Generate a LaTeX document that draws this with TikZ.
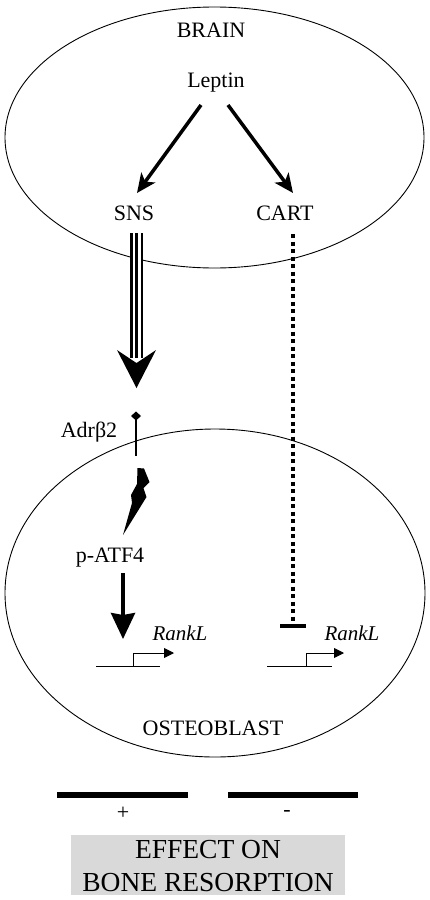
\documentclass[tikz,border=0pt]{standalone}
\usepackage{fontspec}
\setmainfont{Liberation Serif}
\usetikzlibrary{arrows.meta}
\tikzset{
  lbl/.style={font=\fontsize{22}{24}\selectfont, inner sep=0pt},
  gene/.style={font=\fontsize{21}{24}\selectfont\itshape, inner sep=0pt},
  big/.style={font=\fontsize{27.5}{33}\selectfont, inner sep=0pt, align=center},
  thickarrow/.style={line width=3.5pt, -{Stealth[length=19pt,width=17pt,inset=5pt]}},
  thin/.style={line width=0.9pt},
}
\begin{document}
\begin{tikzpicture}[x=1pt,y=-1pt]
\useasboundingbox (0,0) rectangle (430,900);
% compartments
\draw[thin] (214.5,137.5) ellipse [x radius=209.5, y radius=130.5];
\draw[thin] (215,593) ellipse [x radius=210, y radius=164];
% brain labels
\node[lbl] (brain) at (211,30) {BRAIN};
\node[lbl] (leptin) at (216,83) {Leptin};
\node[lbl] (sns) at (134,213) {SNS};
\node[lbl] (cart) at (285,213) {CART};
\coordinate (l1) at (201,105);
\coordinate (s1) at (137,193);
\coordinate (l2) at (228,105);
\coordinate (c1) at (293,193);
\draw[thickarrow] (l1) -- (s1);
\draw[thickarrow] (l2) -- (c1);
% SNS triple line
\coordinate (snsTop) at (136.5,233);
\coordinate (snsBot) at (136.5,358);
\draw[line width=13pt] (snsTop) -- (snsBot);
\draw[line width=8pt, white] (snsTop) -- (snsBot);
\draw[line width=3pt] (snsTop) -- (snsBot);
\coordinate (snsTip) at (136.5,388);
\fill (117,350) -- (136.5,363) -- (156,350) -- (snsTip) -- cycle;
% receptor
\node[lbl] (adr) at (89,432) {Adrβ2};
\coordinate (recTop) at (136,416);
\coordinate (recBot) at (136,456);
\draw[line width=1.8pt] (recTop) -- (recBot);
\fill (131,416) -- (136,411.5) -- (141,416) -- (136,420.5) -- cycle;
% lightning bolt
\fill (137.5,468) -- (144,468.5) -- (149.5,482) -- (143.5,488) -- (146.5,497) -- (123,535) -- (132,503) -- (131,495) -- (137,484) -- cycle;
\node[lbl] (atf) at (110,558) {p-ATF4};
% ATF4 arrow
\coordinate (atfStart) at (123,573);
\coordinate (atfTip) at (123,639);
\draw[line width=3.5pt, -{Stealth[length=26pt,width=24pt,inset=2pt]}] (atfStart) -- (atfTip);
% gene 1
\coordinate (g1a) at (96,666);
\coordinate (g1b) at (160,666);
\coordinate (g1p) at (133,666);
\coordinate (g1t) at (174,653);
\draw[thin] (g1a) -- (g1b);
\draw[thin, -{Triangle[length=10pt,width=10pt]}] (g1p) |- (g1t);
\node[gene] (rank1) at (180,633) {RankL};
% CART dotted inhibition
\coordinate (cartTop) at (292.5,234);
\coordinate (cartBot) at (292.5,626);
\draw[line width=4pt, dash pattern=on 4pt off 3.5pt] (cartTop) -- (cartBot);
\draw[line width=4.5pt] (280,626) -- (306,626);
% gene 2
\coordinate (g2a) at (267,666);
\coordinate (g2b) at (332,666);
\coordinate (g2p) at (306,666);
\coordinate (g2t) at (344,653);
\draw[thin] (g2a) -- (g2b);
\draw[thin, -{Triangle[length=10pt,width=10pt]}] (g2p) |- (g2t);
\node[gene] (rank2) at (352,633) {RankL};
\node[lbl] (osteo) at (213,728) {OSTEOBLAST};
% bottom
\draw[line width=6pt] (57,795) -- (188,795);
\draw[line width=6pt] (228,795) -- (358,795);
\node[lbl] (plus) at (123,813) {+};
\node[lbl] (minus) at (287,813) {-};
\fill[gray!30] (71,835) rectangle (345,895);
\node[big] (effect) at (208,866) {EFFECT ON\\BONE RESORPTION};
\end{tikzpicture}
\end{document}
